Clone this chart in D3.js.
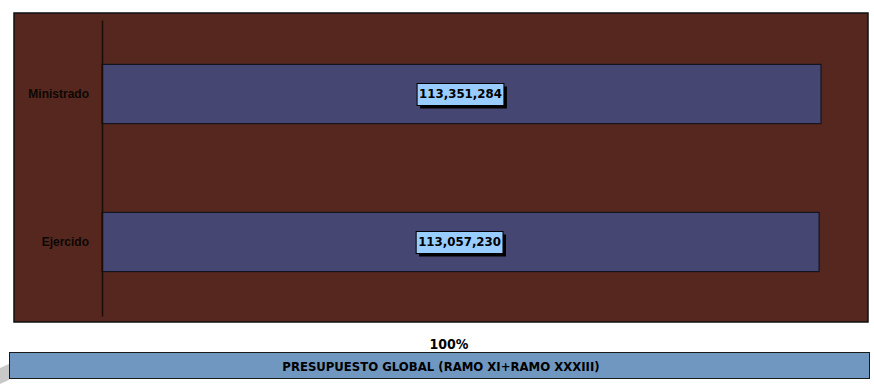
<!DOCTYPE html>
<html><head><meta charset="utf-8">
<script src="https://cdn.jsdelivr.net/npm/d3@7"></script>
<style>body{margin:0;background:#fff;} svg{display:block;}</style>
</head><body>
<script>
const categories = ["Ministrado", "Ejercido"];
const values = [113351284, 113057230];
const percentLabel = "100%";
const bannerText = "PRESUPUESTO GLOBAL (RAMO XI+RAMO XXXIII)";

const W = 874, H = 386;
const svg = d3.select("body").append("svg").attr("width", W).attr("height", H);

// shadow fragment at bottom-left
svg.append("path").attr("d","M0,368 L9,364 L9,380 L0,384 Z").attr("fill","#c8c8c8");

// frame
svg.append("rect").attr("x",14).attr("y",13).attr("width",854).attr("height",309)
  .attr("fill","#55271e").attr("stroke","#111").attr("stroke-width",1.5);

const x = d3.scaleLinear().domain([0, d3.max(values)]).range([102, 821]);
const y = d3.scaleBand().domain(categories).range([20, 316]).paddingInner(0.6).paddingOuter(0.3);

// bars
svg.selectAll("rect.bar").data(values).enter().append("rect").attr("class","bar")
  .attr("x", x(0)).attr("y",(d,i)=>y(categories[i]))
  .attr("width", d=>x(d)-x(0)).attr("height", y.bandwidth())
  .attr("fill","#464672").attr("stroke","#141420").attr("stroke-width",1.2);

// axis line
const ax = svg.append("g").attr("transform",`translate(${x(0)},0)`)
  .call(d3.axisLeft(y).tickSize(0).tickPadding(13));
ax.select(".domain").attr("stroke","#1a0c08").attr("stroke-width",1.5);
ax.selectAll("text").attr("font-family","Liberation Sans, Arial, sans-serif")
  .attr("font-weight","bold").attr("font-size",12).attr("fill","#0d0705");

// value labels
const fmt = d3.format(",");
const lab = svg.selectAll("g.lab").data(values).enter().append("g").attr("class","lab")
  .attr("transform",(d,i)=>`translate(${(x(0)+x(d))/2 - 1},${y(categories[i])+y.bandwidth()/2})`);
lab.each(function(d){
  const g = d3.select(this);
  const sh = g.append("rect").attr("fill","#000");
  const bx = g.append("rect").attr("fill","#99ccff").attr("stroke","#000").attr("stroke-width",1);
  const t = g.append("text").text(fmt(d)).attr("text-anchor","middle").attr("dy","0.36em")
    .attr("font-family","DejaVu Sans, Verdana, sans-serif").attr("font-weight","bold")
    .attr("font-size",11.8).attr("fill","#000");
  const bb = t.node().getBBox();
  const w = bb.width+4, h = 22;
  bx.attr("x",-w/2).attr("y",-h/2+0.5).attr("width",w).attr("height",h);
  sh.attr("x",-w/2+3).attr("y",-h/2+3.5).attr("width",w).attr("height",h);
});

// percent and banner
svg.append("text").attr("x",449).attr("y",349).attr("text-anchor","middle")
  .attr("font-family","DejaVu Sans Condensed, DejaVu Sans, sans-serif").attr("font-weight","bold")
  .attr("font-size",14).attr("fill","#000").text(percentLabel);
svg.append("rect").attr("x",9.5).attr("y",352.5).attr("width",860).attr("height",26)
  .attr("fill","#7097bf").attr("stroke","#1a1a1a").attr("stroke-width",1);
svg.append("text").attr("x",441).attr("y",366).attr("dy","0.36em").attr("text-anchor","middle")
  .attr("font-family","DejaVu Sans Condensed, DejaVu Sans, sans-serif").attr("font-weight","bold")
  .attr("font-size",13).attr("fill","#000").text(bannerText);
</script>
</body></html>
